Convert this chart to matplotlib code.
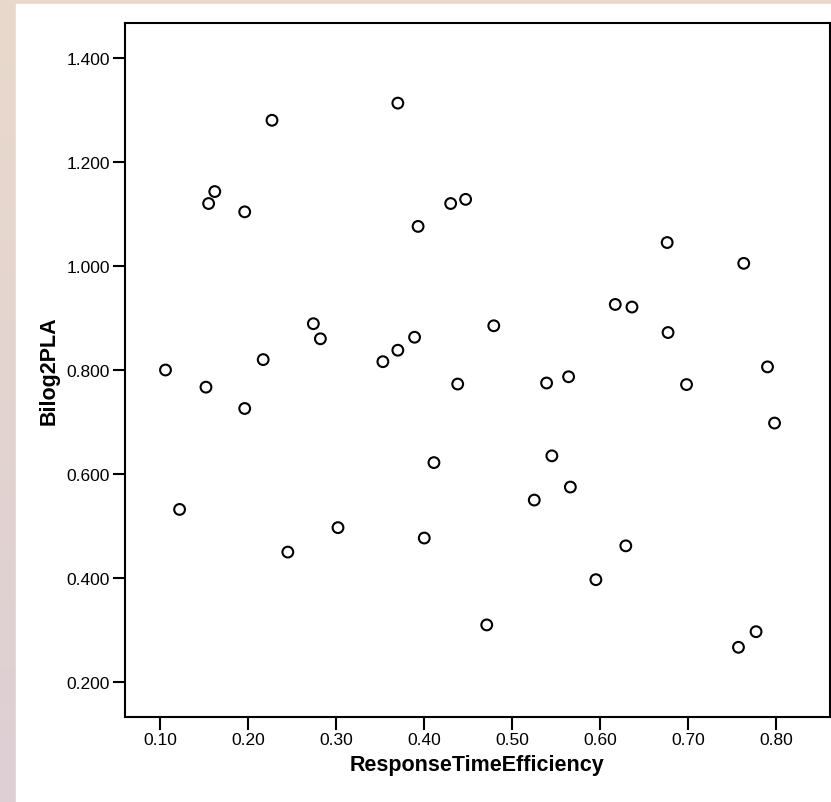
import numpy as np
import matplotlib
matplotlib.use('Agg')
import matplotlib.pyplot as plt
from matplotlib.colors import LinearSegmentedColormap

plt.rcParams['font.family'] = ['Liberation Sans', 'DejaVu Sans']

response_time_eff = [0.106, 0.122, 0.152, 0.155, 0.162, 0.196, 0.196, 0.217, 0.227, 0.245,
                     0.274, 0.282, 0.302, 0.353, 0.370, 0.370, 0.389, 0.393, 0.400, 0.411,
                     0.438, 0.430, 0.447, 0.471, 0.479, 0.525, 0.539, 0.545, 0.564, 0.566,
                     0.595, 0.617, 0.629, 0.636, 0.676, 0.677, 0.698, 0.757, 0.763, 0.777,
                     0.790, 0.798]
bilog_2pla = [0.800, 0.532, 0.767, 1.120, 1.143, 1.104, 0.726, 0.820, 1.280, 0.450,
              0.889, 0.860, 0.497, 0.816, 0.838, 1.313, 0.863, 1.076, 0.477, 0.622,
              0.773, 1.120, 1.128, 0.310, 0.885, 0.550, 0.775, 0.635, 0.787, 0.575,
              0.397, 0.926, 0.462, 0.921, 1.045, 0.872, 0.772, 0.267, 1.005, 0.297,
              0.806, 0.698]
x_ticks = [0.1, 0.2, 0.3, 0.4, 0.5, 0.6, 0.7, 0.8]
y_ticks = [0.2, 0.4, 0.6, 0.8, 1.0, 1.2, 1.4]

fig = plt.figure(figsize=(8.31, 8.03), dpi=100)

# gradient background behind the white panel
bg = fig.add_axes([0, 0, 1, 1], zorder=-2)
cmap = LinearSegmentedColormap.from_list('bg', ['#ddcfd4', '#e9d9cc'])
bg.imshow(np.linspace(0, 1, 256).reshape(-1, 1), aspect='auto', cmap=cmap,
          origin='lower', extent=[0, 1, 0, 1])
bg.add_patch(plt.Rectangle((16 / 831, 0), 1, 1 - 5 / 803, color='white'))
bg.set_xlim(0, 1)
bg.set_ylim(0, 1)
bg.axis('off')

ax = fig.add_axes([125 / 831, 85 / 803, 705 / 831, 694 / 803])
ax.scatter(response_time_eff, bilog_2pla, s=60, facecolors='none',
           edgecolors='black', linewidths=1.5)
ax.set_xlim(0.060, 0.861)
ax.set_ylim(0.133, 1.467)
ax.set_xticks(x_ticks)
ax.set_xticklabels([f'{v:.2f}' for v in x_ticks])
ax.set_yticks(y_ticks)
ax.set_yticklabels([f'{v:.3f}' for v in y_ticks])
ax.tick_params(length=9, width=1.5, labelsize=12.5, pad=2)
for s in ax.spines.values():
    s.set_linewidth(1.5)
ax.set_xlabel('ResponseTimeEfficiency', fontsize=15.5, fontweight='bold', labelpad=5)
ax.set_ylabel('Bilog2PLA', fontsize=15.5, fontweight='bold', labelpad=5)

fig.savefig('out.png', dpi=100)
